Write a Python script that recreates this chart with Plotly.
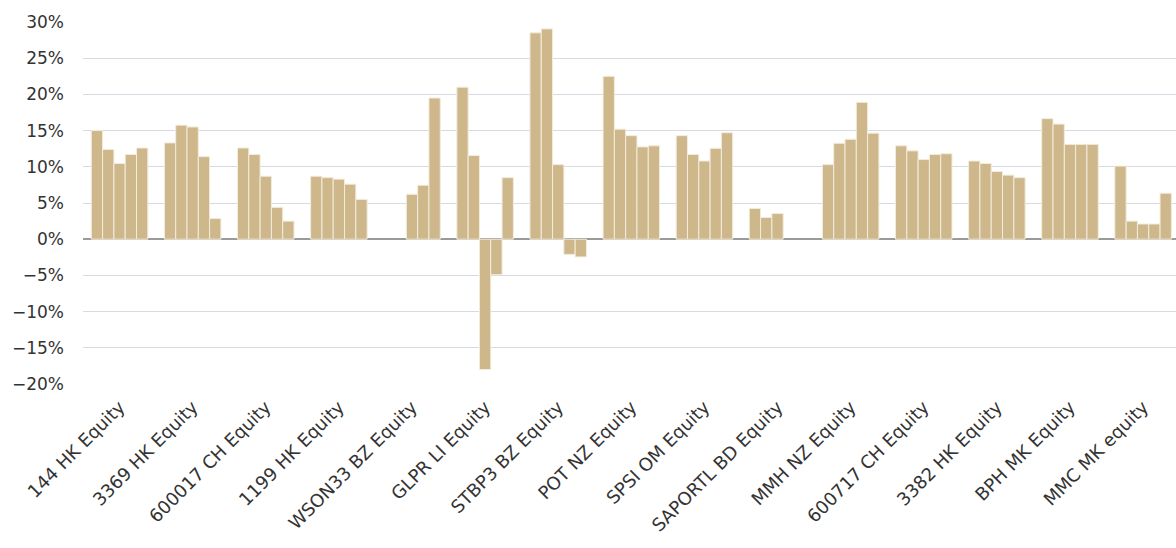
import plotly.graph_objects as go

# Tickers on the category axis
tickers = [
    "144 HK Equity", "3369 HK Equity", "600017 CH Equity", "1199 HK Equity",
    "WSON33 BZ Equity", "GLPR LI Equity", "STBP3 BZ Equity", "POT NZ Equity",
    "SPSI OM Equity", "SAPORTL BD Equity", "MMH NZ Equity", "600717 CH Equity",
    "3382 HK Equity", "BPH MK Equity", "MMC MK equity",
]

# Five yearly values per ticker (fractions), one list per series
series_1 = [0.150, 0.133, 0.126, 0.087, None, 0.210, 0.285, 0.225, 0.143, 0.0425, 0.103, 0.129, 0.108, 0.1665, 0.101]
series_2 = [0.124, 0.1575, 0.117, 0.085, None, 0.1155, 0.2905, 0.152, 0.117, 0.030, 0.1325, 0.122, 0.1045, 0.159, 0.025]
series_3 = [0.1045, 0.155, 0.087, 0.083, 0.062, -0.180, 0.103, 0.143, 0.108, 0.0355, 0.138, 0.110, 0.0935, 0.131, 0.021]
series_4 = [0.117, 0.114, 0.044, 0.076, 0.0745, -0.049, -0.021, 0.1275, 0.1255, None, 0.189, 0.117, 0.0885, 0.131, 0.021]
series_5 = [0.126, 0.0285, 0.025, 0.055, 0.195, 0.085, -0.0245, 0.129, 0.147, None, 0.1465, 0.118, 0.085, 0.131, 0.0635]

all_series = [series_1, series_2, series_3, series_4, series_5]

bar_colour = "#CDB78B"
edge_colour = "#F3ECDC"

fig = go.Figure()
for i, vals in enumerate(all_series):
    fig.add_trace(go.Bar(
        x=tickers,
        y=vals,
        name=f"Series {i + 1}",
        marker=dict(color=bar_colour, line=dict(color=edge_colour, width=1)),
        showlegend=False,
    ))

font_family = "DejaVu Sans"
text_colour = "#333333"

fig.update_layout(
    width=1176,
    height=548,
    barmode="group",
    bargap=0.227,
    bargroupgap=0,
    plot_bgcolor="white",
    paper_bgcolor="white",
    margin=dict(l=83, r=0, t=22, b=164),
    font=dict(family=font_family, size=16, color=text_colour),
    xaxis=dict(
        range=[-0.5, 14.45],
        tickangle=-45,
        tickfont=dict(family=font_family, size=18, color=text_colour),
        showgrid=False,
        showline=False,
        zeroline=False,
        ticks="",
        ticklabelstandoff=8,
    ),
    yaxis=dict(
        range=[-0.20, 0.30],
        dtick=0.05,
        tick0=0,
        tickformat=".0%",
        tickfont=dict(family=font_family, size=17, color=text_colour),
        showgrid=True,
        gridcolor="#D6DAE2",
        gridwidth=1.2,
        zeroline=True,
        zerolinecolor="#9A9A9A",
        zerolinewidth=1.6,
        showline=False,
        ticks="",
        ticklabelstandoff=18,
    ),
)

fig.write_html("out.html")
